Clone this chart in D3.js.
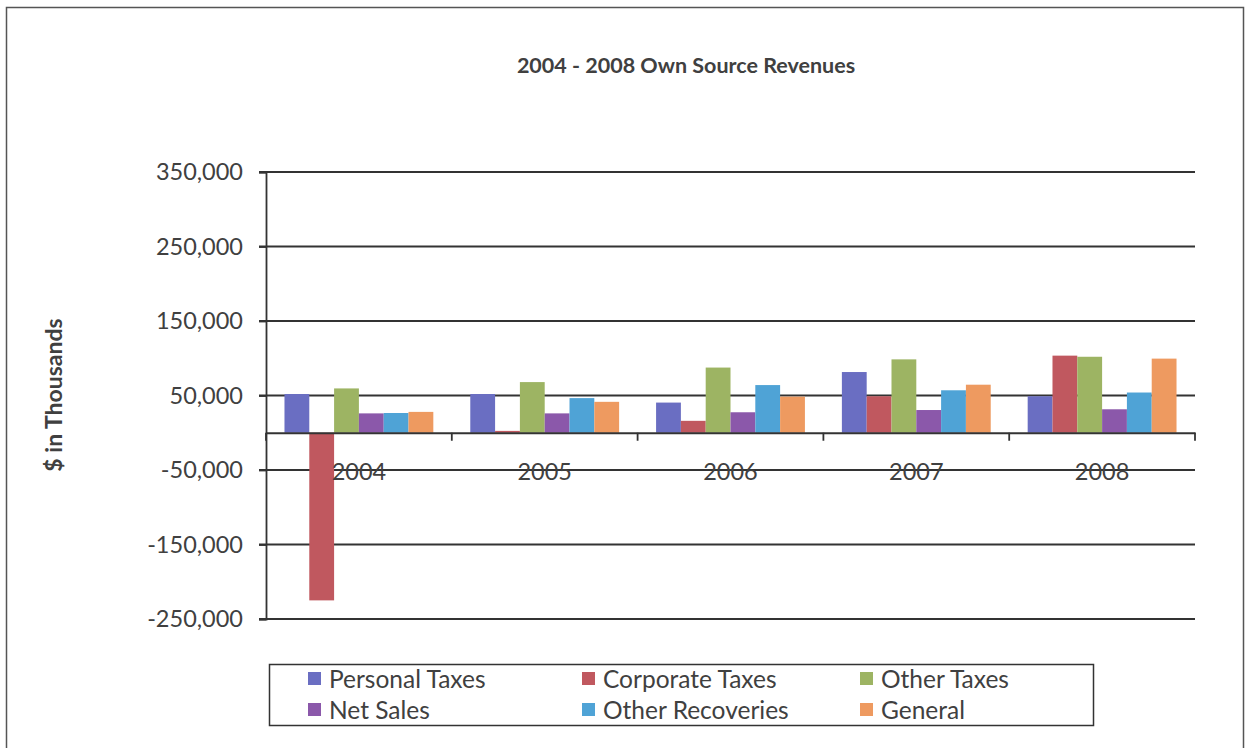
<!DOCTYPE html>
<html>
<head>
<meta charset="utf-8">
<script src="https://cdn.jsdelivr.net/npm/d3@7/dist/d3.min.js"></script>
<style>
  html, body { margin: 0; padding: 0; background: #fff; }
  svg { display: block; }
  text { font-family: Lato, "Open Sans", sans-serif; fill: #404040; }
</style>
</head>
<body>
<svg id="chart" width="1246" height="748"></svg>
<script>
// Own source revenues, $ in thousands
const years = ["2004", "2005", "2006", "2007", "2008"];
const seriesNames = ["Personal Taxes", "Corporate Taxes", "Other Taxes", "Net Sales", "Other Recoveries", "General"];
const personalTaxes   = [52000, 52000, 40500, 81500, 49000];
const corporateTaxes  = [-225000, 2500, 16000, 49000, 103500];
const otherTaxes      = [59500, 68000, 87500, 98500, 102000];
const netSales        = [26000, 26000, 27500, 30500, 31500];
const otherRecoveries = [26500, 46500, 64000, 57000, 54000];
const general         = [28000, 41500, 48500, 64500, 99500];
const yTicks = [-250000, -150000, -50000, 50000, 150000, 250000, 350000];
const seriesColors = ["#6a6ec2", "#c0585f", "#9db463", "#8b58aa", "#4fa3d6", "#ee9a60"];

const seriesValues = [personalTaxes, corporateTaxes, otherTaxes, netSales, otherRecoveries, general];

const svg = d3.select("#chart");
const FONT = "Lato, 'Open Sans', sans-serif";

// outer frame
svg.append("path")
  .attr("d", "M6.5,760 V7.5 H1243.5 V760")
  .attr("fill", "none").attr("stroke", "#555").attr("stroke-width", 1.5);

svg.append("text")
  .attr("x", 686).attr("y", 73)
  .attr("text-anchor", "middle")
  .attr("font-size", 21.5).attr("font-weight", 700)
  .text("2004 - 2008 Own Source Revenues");

const plotLeft = 266, plotRight = 1195, plotTop = 172, plotBottom = 619;

const y = d3.scaleLinear().domain([-250000, 350000]).range([plotBottom, plotTop]);
const x0 = d3.scaleBand().domain(years).range([plotLeft, plotRight]).paddingInner(0).paddingOuter(0);
const x1 = d3.scaleBand().domain(seriesNames).range([0, x0.bandwidth()]).paddingInner(0).paddingOuter(0.745);

// thousands separator with a plain hyphen for negatives
const fmt = d3.formatLocale({ decimal: ".", thousands: ",", grouping: [3], currency: ["$", ""], minus: "-" }).format(",");

// horizontal gridlines
svg.append("g").selectAll("line").data(yTicks).join("line")
  .attr("x1", plotLeft - 7).attr("x2", plotRight)
  .attr("y1", d => y(d)).attr("y2", d => y(d))
  .attr("stroke", "#333").attr("stroke-width", 1.8);

// y axis
const yAxis = d3.axisLeft(y).tickValues(yTicks).tickSize(7).tickPadding(16).tickFormat(fmt);
const yg = svg.append("g").attr("transform", `translate(${plotLeft},0)`).call(yAxis);
yg.select(".domain").attr("stroke", "#333").attr("stroke-width", 1.8);
yg.selectAll(".tick line").attr("stroke", "#333").attr("stroke-width", 1.8);
yg.selectAll(".tick text").attr("font-size", 23.5).attr("fill", "#404040").attr("font-family", FONT);

svg.append("text")
  .attr("transform", `translate(62,395) rotate(-90)`)
  .attr("text-anchor", "middle")
  .attr("font-size", 23).attr("font-weight", 700)
  .attr("fill", "#555")
  .text("$ in Thousands");

// bars
const groups = svg.append("g").selectAll("g").data(years).join("g")
  .attr("transform", d => `translate(${x0(d)},0)`);
groups.selectAll("rect")
  .data((yr, i) => seriesNames.map((s, k) => ({ s, k, v: seriesValues[k][i] })))
  .join("rect")
  .attr("x", d => x1(d.s))
  .attr("width", x1.bandwidth())
  .attr("y", d => y(Math.max(0, d.v)))
  .attr("height", d => Math.abs(y(d.v) - y(0)))
  .attr("fill", d => seriesColors[d.k]);

// category axis along zero
const xAxis = d3.axisBottom(x0).tickSize(0).tickPadding(31);
const xg = svg.append("g").attr("transform", `translate(0,${y(0)})`).call(xAxis);
xg.select(".domain").attr("stroke", "#333").attr("stroke-width", 1.8);
xg.selectAll(".tick text").attr("font-size", 23.5).attr("fill", "#404040").attr("font-family", FONT);
svg.append("g").selectAll("line").data(years.map(d => x0(d) + x0.bandwidth()).concat([plotLeft]))
  .join("line")
  .attr("x1", d => d).attr("x2", d => d)
  .attr("y1", y(0)).attr("y2", y(0) + 8)
  .attr("stroke", "#333").attr("stroke-width", 1.8);

// legend
const legend = svg.append("g");
legend.append("rect")
  .attr("x", 269.5).attr("y", 664.5).attr("width", 824).attr("height", 61)
  .attr("fill", "none").attr("stroke", "#333").attr("stroke-width", 1.5);
const colX = [308, 582, 860];
const rowY = [679, 710];
const items = legend.selectAll("g.item").data(seriesNames).join("g")
  .attr("class", "item")
  .attr("transform", (d, i) => `translate(${colX[i % 3]},${rowY[Math.floor(i / 3)]})`);
items.append("rect")
  .attr("x", 0).attr("y", -7).attr("width", 13).attr("height", 13)
  .attr("fill", (d, i) => seriesColors[i]);
items.append("text")
  .attr("x", 21).attr("y", 0).attr("dy", "0.35em")
  .attr("font-size", 24.5)
  .text(d => d);
</script>
</body>
</html>
